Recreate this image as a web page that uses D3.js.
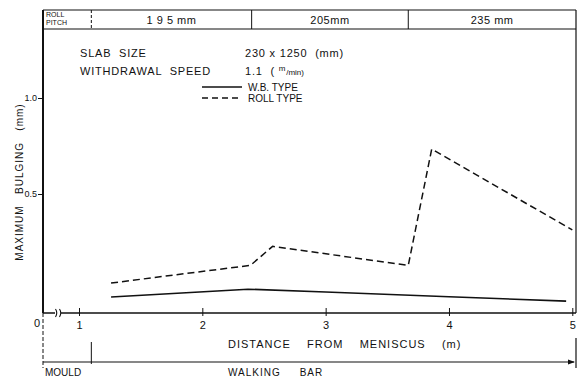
<!DOCTYPE html>
<html><head><meta charset="utf-8">
<script src="https://cdn.jsdelivr.net/npm/d3@7"></script>
<style>
body{margin:0;background:#fff;}
svg{display:block;font-family:"Liberation Sans","DejaVu Sans",sans-serif;}
</style></head>
<body>
<svg id="c" width="578" height="378"></svg>
<script>
// ---- data ----
const xTicks = [1, 2, 3, 4, 5];
const xTickLabels = ["1", "2", "3", "4", "5"];
const yTicks = [0.5, 1.0];
const yTickLabels = ["0.5", "1.0"];
const wbDist = [1.26, 2.37, 3.0, 4.0, 4.95];
const wbBulge = [0.067, 0.10, 0.088, 0.068, 0.05];
const rollDist = [1.26, 2.39, 2.57, 3.67, 3.86, 5.0];
const rollBulge = [0.126, 0.20, 0.28, 0.20, 0.734, 0.349];
const pitchBounds = [1.1, 2.4, 3.67, 5.03];
const pitchLabels = ["1 9 5  mm", "205mm", "235  mm"];
const mouldEnd = 1.1;

const svg = d3.select("#c");
const ink = "#111";

// scales (axis broken between 0 and 1)
const x = d3.scaleLinear().domain([0, 1, 5.03]).range([43, 79, 576]);
const y = d3.scaleLinear().domain([0, 0.5, 1.0]).range([313, 194, 98]);
const yTop = 10, headerBottom = 29;

// frame
svg.append("line").attr("x1", x(0)).attr("x2", x(5.03)).attr("y1", yTop).attr("y2", yTop)
  .attr("stroke", ink).attr("stroke-width", 1.2);
svg.append("line").attr("x1", x(0)).attr("x2", x(5.03)).attr("y1", headerBottom).attr("y2", headerBottom)
  .attr("stroke", ink).attr("stroke-width", 1.2);
svg.append("line").attr("x1", x(5.03)).attr("x2", x(5.03)).attr("y1", yTop).attr("y2", y(0))
  .attr("stroke", ink).attr("stroke-width", 1.2);

// header: roll pitch
svg.append("text").attr("x", 46).attr("y", 17).attr("font-size", 7).attr("fill", ink).text("ROLL");
svg.append("text").attr("x", 46).attr("y", 25).attr("font-size", 7).attr("fill", ink).text("PITCH");
pitchBounds.slice(0, 3).forEach((b, i) => {
  svg.append("line").attr("x1", x(b)).attr("x2", x(b)).attr("y1", yTop).attr("y2", headerBottom)
    .attr("stroke", ink).attr("stroke-width", 1)
    .attr("stroke-dasharray", i === 0 ? "3,2" : null);
});
pitchLabels.forEach((t, i) => {
  svg.append("text").attr("x", (x(pitchBounds[i]) + x(pitchBounds[i + 1])) / 2).attr("y", 24)
    .attr("text-anchor", "middle").attr("font-size", 11).attr("letter-spacing", "0.5px")
    .attr("fill", ink).text(t);
});

// y axis
const yAxis = d3.axisLeft(y).tickValues(yTicks).tickFormat((d, i) => yTickLabels[i])
  .tickSizeOuter(0).tickSize(5).tickPadding(1);
const gy = svg.append("g").attr("transform", `translate(${x(0)},0)`).call(yAxis);
gy.select(".domain").remove();
gy.selectAll("text").attr("font-size", 9).attr("fill", ink).attr("font-family", "Liberation Sans, sans-serif");
gy.selectAll("line").attr("stroke", ink);
svg.append("line").attr("x1", x(0)).attr("x2", x(0)).attr("y1", yTop).attr("y2", y(0))
  .attr("stroke", ink).attr("stroke-width", 2);

// x axis
const xAxis = d3.axisBottom(x).tickValues(xTicks).tickFormat((d, i) => xTickLabels[i])
  .tickSizeOuter(0).tickSize(-5).tickPadding(8);
const gx = svg.append("g").attr("transform", `translate(0,${y(0)})`).call(xAxis);
gx.select(".domain").remove();
gx.selectAll("text").attr("font-size", 11).attr("fill", ink).attr("font-family", "Liberation Sans, sans-serif");
gx.selectAll(".tick line").attr("stroke", ink).attr("y2", -5)
  .each(function () { d3.select(this).attr("y1", 3); });
svg.append("line").attr("x1", x(0)).attr("x2", x(5.03)).attr("y1", y(0)).attr("y2", y(0))
  .attr("stroke", ink).attr("stroke-width", 1.6);
// break marks
svg.append("rect").attr("x", 55).attr("y", y(0) - 3).attr("width", 6).attr("height", 6).attr("fill", "#fff");
[55.5, 59.5].forEach(bx => {
  svg.append("path").attr("d", `M${bx},${y(0) - 4} q2.5,4 0,8`).attr("fill", "none")
    .attr("stroke", ink).attr("stroke-width", 1.1);
});
svg.append("text").attr("x", 37).attr("y", y(0) + 14).attr("font-size", 11).attr("text-anchor", "middle")
  .attr("fill", ink).text("0");

// y label
svg.append("text").attr("transform", "translate(23,182) rotate(-90)").attr("text-anchor", "middle")
  .attr("font-size", 10).attr("letter-spacing", "1px").attr("fill", ink)
  .attr("xml:space", "preserve").text("MAXIMUM   BULGING   (mm)");

// annotation text
const ann = svg.append("g").attr("fill", ink).attr("font-size", 11).attr("letter-spacing", "0.8px");
ann.append("text").attr("x", 80).attr("y", 57).text("SLAB  SIZE").attr("xml:space", "preserve");
ann.append("text").attr("x", 80).attr("y", 75).text("WITHDRAWAL  SPEED").attr("xml:space", "preserve");
ann.append("text").attr("x", 245).attr("y", 57).attr("xml:space", "preserve").text("230 x 1250  (mm)");
const sp = ann.append("text").attr("x", 245).attr("y", 75).attr("xml:space", "preserve");
sp.append("tspan").text("1.1  ( ");
sp.append("tspan").attr("font-size", 8).attr("dy", -4).text("m");
sp.append("tspan").attr("font-size", 8).attr("dy", 4).attr("letter-spacing", "0px").text("/min)");

// legend
svg.append("line").attr("x1", 202).attr("x2", 242).attr("y1", 87).attr("y2", 87)
  .attr("stroke", ink).attr("stroke-width", 1.5);
svg.append("line").attr("x1", 202).attr("x2", 242).attr("y1", 98).attr("y2", 98)
  .attr("stroke", ink).attr("stroke-width", 1.5).attr("stroke-dasharray", "6,4");
svg.append("text").attr("x", 248).attr("y", 91).attr("font-size", 10).attr("fill", ink).text("W.B. TYPE");
svg.append("text").attr("x", 248).attr("y", 102).attr("font-size", 10).attr("fill", ink).text("ROLL TYPE");

// lines
const line = d3.line().x(d => x(d[0])).y(d => y(d[1]));
svg.append("path").datum(wbDist.map((d, i) => [d, wbBulge[i]])).attr("d", line)
  .attr("fill", "none").attr("stroke", ink).attr("stroke-width", 1.6);
svg.append("path").datum(rollDist.map((d, i) => [d, rollBulge[i]])).attr("d", line)
  .attr("fill", "none").attr("stroke", ink).attr("stroke-width", 1.5).attr("stroke-dasharray", "7,4");

// bottom: distance label
svg.append("text").attr("x", 228).attr("y", 348).attr("font-size", 11).attr("letter-spacing", "1px")
  .attr("fill", ink).attr("xml:space", "preserve").text("DISTANCE    FROM    MENISCUS    (m)");

// mould / walking bar bracket
svg.append("line").attr("x1", x(0)).attr("x2", x(0)).attr("y1", y(0)).attr("y2", 368)
  .attr("stroke", ink).attr("stroke-width", 1).attr("stroke-dasharray", "4,2");
svg.append("line").attr("x1", x(mouldEnd)).attr("x2", x(mouldEnd)).attr("y1", 342).attr("y2", 364)
  .attr("stroke", ink).attr("stroke-width", 1);
svg.append("line").attr("x1", x(5.03)).attr("x2", x(5.03)).attr("y1", 338).attr("y2", 368)
  .attr("stroke", ink).attr("stroke-width", 1.2);
svg.append("line").attr("x1", x(0)).attr("x2", x(5.03) - 2).attr("y1", 362).attr("y2", 362)
  .attr("stroke", ink).attr("stroke-width", 1.2);
svg.append("path").attr("d", `M${x(5.03) - 1},362 l-7,-2.5 l0,5 z`).attr("fill", ink);
svg.append("text").attr("x", 45).attr("y", 376).attr("font-size", 10).attr("fill", ink).text("MOULD");
svg.append("text").attr("x", 228).attr("y", 376).attr("font-size", 10).attr("letter-spacing", "1px")
  .attr("fill", ink).attr("xml:space", "preserve").text("WALKING     BAR");
</script>
</body></html>
